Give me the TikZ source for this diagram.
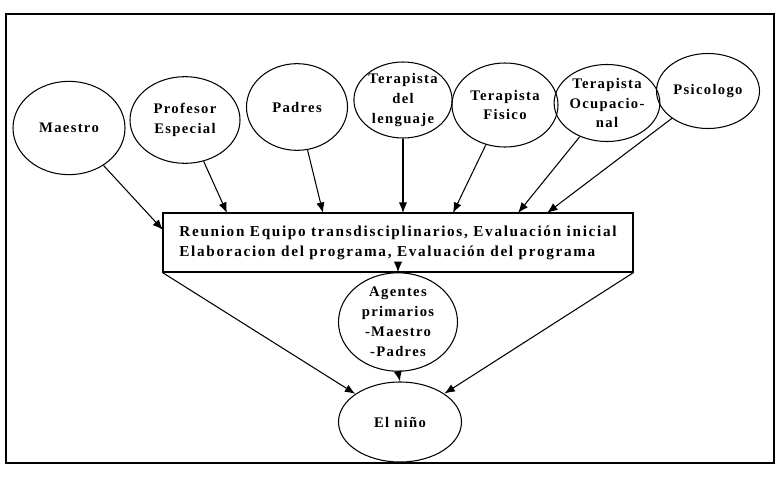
\documentclass[tikz,border=0pt]{standalone}
\usepackage{fontspec}
\setmainfont{Liberation Serif}[LetterSpace=9]
\usepackage{tikz}
\usetikzlibrary{shapes.geometric}
\usetikzlibrary{arrows.meta}

\begin{document}
\begin{tikzpicture}[x=0.03cm,y=-0.03cm,line width=0.9pt,
agente/.style={ellipse,draw,inner sep=0pt,align=center,font=\bfseries\fontsize{12.5}{17}\selectfont},
reunion/.style={rectangle,draw,inner sep=0pt,align=left,minimum width=14.1cm,minimum height=1.77cm,font=\bfseries\addfontfeature{LetterSpace=11}\fontsize{13}{17}\selectfont},
flecha/.style={-{Latex[length=9pt,width=7pt]}}]
%\tikzstyle{every node}=[ellipse,draw]

\useasboundingbox (0,0) rectangle (777,477);
\draw (6,14) rectangle (774,463);

\node[agente,minimum width=3.36cm,minimum height=2.8cm] (Maestro) at (69,128) {Maestro};
\node[agente,minimum width=3.3cm,minimum height=2.6cm] (Profesor) at (185,120) {Profesor\\Especial};
\node[agente,minimum width=3.03cm,minimum height=2.6cm] (Padres) at (297,107) {Padres};
\node[agente,minimum width=2.82cm,minimum height=2.28cm] (Lenguaje) at (403,100) {Terapista\\del\\lenguaje};
\node[agente,minimum width=3.18cm,minimum height=2.52cm] (Fisico) at (505,105) {Terapista\\Fisico};
\node[agente,minimum width=2.73cm,minimum height=2.31cm] (Ocupacional) at (607,103) {Terapista\\Ocupacio-\\nal};
\node[agente,minimum width=3.09cm,minimum height=2.25cm] (Psicologo) at (708,91) {Psicologo};

\node[reunion] (Reunion) at (398,242.5)
  {Reunion Equipo transdisciplinarios, Evaluación inicial\\Elaboracion del programa, Evaluación del programa};

\node[agente,minimum width=3.57cm,minimum height=2.4cm] (Agentes) at (398,322) {Agentes\\primarios\\-Maestro\\-Padres};
\node[agente,minimum width=3.69cm,minimum height=2.4cm] (Nino) at (400,422) {El niño};

% llegadas sobre el recuadro
\coordinate (r1) at (163,230);
\coordinate (r2) at (227,213);
\coordinate (r3) at (323,213);
\coordinate (r4) at (403,213);
\coordinate (r5) at (453,213);
\coordinate (r6) at (518,213);
\coordinate (r7) at (547,213);

\draw[flecha] (Maestro) -- (r1);
\draw[flecha] (Profesor) -- (r2);
\draw[flecha] (Padres) -- (r3);
\draw[flecha] (Lenguaje) -- (r4);
\draw[flecha] (Fisico) -- (r5);
\draw[flecha] (Ocupacional) -- (r6);
\draw[flecha] (Psicologo) -- (r7);

\draw[flecha] ([yshift=5pt]Reunion.south) -- (Agentes.north);
\draw[flecha] (Agentes.south) -- (Nino.north);
\draw[flecha] (Reunion.south west) -- (Nino);
\draw[flecha] (Reunion.south east) -- (Nino);
\end{tikzpicture}
\end{document}
